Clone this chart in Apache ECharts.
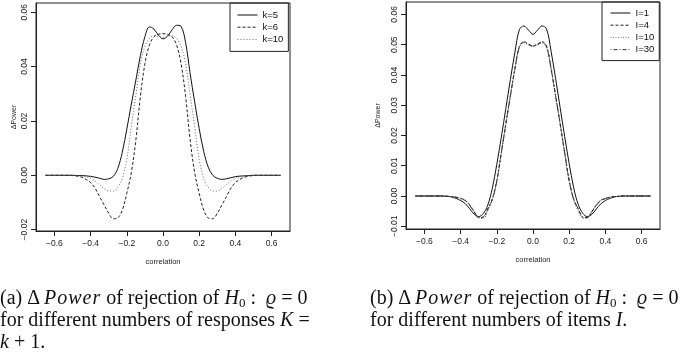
<!DOCTYPE html>
<html>
<head>
<meta charset="utf-8">
<script src="https://cdn.jsdelivr.net/npm/echarts@6/dist/echarts.min.js"></script>
<style>
  html, body { margin: 0; padding: 0; background: #fff; }
  #chart { position: absolute; left: 0; top: 0; width: 685px; height: 355px; }
  .cap {
    position: absolute; font-family: "Liberation Serif", "DejaVu Serif", serif;
    font-size: 20px; line-height: 22px; color: #111; white-space: nowrap;
  }
  .cap i.w { letter-spacing: 1px; }
  .cap sub { font-size: 13px; vertical-align: -3px; line-height: 0; }
</style>
</head>
<body>
<div id="chart"></div>
<div class="cap" style="left:0px; top:286px;">(a) &Delta; <i class="w">Power</i> of rejection of <i>H</i><sub>0</sub> :&nbsp; <i>&#x3F1;</i> = 0<br>for different numbers of responses <i>K</i> =<br><i>k</i> + 1.</div>
<div class="cap" style="left:370px; top:286px;">(b) &Delta; <i class="w">Power</i> of rejection of <i>H</i><sub>0</sub> :&nbsp; <i>&#x3F1;</i> = 0<br>for different numbers of items <i>I</i>.</div>
<script>
// correlation grid shared by all curves
var corr = [-0.65, -0.625, -0.6, -0.575, -0.55, -0.525, -0.5, -0.475, -0.45, -0.425,
  -0.4, -0.375, -0.35, -0.325, -0.3, -0.275, -0.25, -0.225, -0.2, -0.175,
  -0.15, -0.125, -0.1, -0.075, -0.05, -0.025, 0, 0.025, 0.05, 0.075,
  0.1, 0.125, 0.15, 0.175, 0.2, 0.225, 0.25, 0.275, 0.3, 0.325,
  0.35, 0.375, 0.4, 0.425, 0.45, 0.475, 0.5, 0.525, 0.55, 0.575,
  0.6, 0.625, 0.65];

// (a) responses
var k5 = [0, 0, 0, 0, 0, 0, 0, -0.0001, -0.0001, -0.0002,
  -0.0004, -0.0007, -0.0011, -0.0015, -0.0013, -0.0004, 0.0025, 0.0085, 0.0170, 0.0262,
  0.0350, 0.0440, 0.0510, 0.0546, 0.0538, 0.0515, 0.0502, 0.0512, 0.0535, 0.0552,
  0.0548, 0.0488, 0.0375, 0.0270, 0.0172, 0.0088, 0.0030, 0.0000, -0.0011, -0.0015,
  -0.0013, -0.0009, -0.0005, -0.0003, -0.0002, -0.0001, 0, 0, 0, 0,
  0, 0, 0];
var k6 = [0, 0, 0, 0, 0, 0, -0.0001, -0.0003, -0.0007, -0.0015,
  -0.0027, -0.0048, -0.0079, -0.0110, -0.0140, -0.0160, -0.0157, -0.0128, -0.0066, 0.0010,
  0.0130, 0.0290, 0.0410, 0.0480, 0.0510, 0.0519, 0.0521, 0.0519, 0.0510, 0.0480,
  0.0410, 0.0290, 0.0130, 0.0010, -0.0066, -0.0128, -0.0157, -0.0160, -0.0140, -0.0110,
  -0.0079, -0.0048, -0.0027, -0.0015, -0.0007, -0.0003, -0.0001, 0, 0, 0,
  0, 0, 0];
var k10 = [0, 0, 0, 0, 0, 0, 0, -0.0001, -0.0003, -0.0006,
  -0.0011, -0.0021, -0.0035, -0.0049, -0.0058, -0.0058, -0.0044, -0.0012, 0.0058, 0.0180,
  0.0295, 0.0410, 0.0474, 0.0503, 0.0514, 0.0511, 0.0508, 0.0511, 0.0514, 0.0503,
  0.0474, 0.0410, 0.0295, 0.0180, 0.0058, -0.0012, -0.0044, -0.0058, -0.0058, -0.0049,
  -0.0035, -0.0021, -0.0011, -0.0006, -0.0003, -0.0001, 0, 0, 0, 0,
  0, 0, 0];

// (b) items
var i1 = [0, 0, 0, 0, 0, 0, 0, -0.0001, -0.0003, -0.0008,
  -0.0015, -0.0025, -0.0042, -0.0060, -0.0068, -0.0058, -0.0030, 0.0025, 0.0105, 0.0195,
  0.0290, 0.0385, 0.0475, 0.0550, 0.0562, 0.0548, 0.0534, 0.0548, 0.0562, 0.0552,
  0.0478, 0.0388, 0.0292, 0.0197, 0.0107, 0.0027, -0.0028, -0.0057, -0.0068, -0.0061,
  -0.0043, -0.0026, -0.0015, -0.0008, -0.0003, -0.0001, 0, 0, 0, 0,
  0, 0, 0];
var i4 = [0, 0, 0, 0, 0, 0, 0, -0.0001, -0.0002, -0.0004,
  -0.0008, -0.0014, -0.0030, -0.0052, -0.0072, -0.0070, -0.0042, -0.0010, 0.0052, 0.0145,
  0.0240, 0.0332, 0.0422, 0.0495, 0.0510, 0.0502, 0.0496, 0.0502, 0.0510, 0.0495,
  0.0422, 0.0332, 0.0240, 0.0145, 0.0052, -0.0010, -0.0042, -0.0070, -0.0072, -0.0052,
  -0.0030, -0.0014, -0.0008, -0.0004, -0.0002, -0.0001, 0, 0, 0, 0,
  0, 0, 0];
var i10 = [0, 0, 0, 0, 0, 0, 0, -0.0001, -0.0002, -0.0004,
  -0.0008, -0.0013, -0.0028, -0.0050, -0.0071, -0.0075, -0.0050, -0.0016, 0.0045, 0.0138,
  0.0235, 0.0328, 0.0418, 0.0490, 0.0506, 0.0499, 0.0494, 0.0499, 0.0506, 0.0490,
  0.0418, 0.0328, 0.0235, 0.0138, 0.0045, -0.0016, -0.0050, -0.0075, -0.0071, -0.0050,
  -0.0028, -0.0013, -0.0008, -0.0004, -0.0002, -0.0001, 0, 0, 0, 0,
  0, 0, 0];
var i30 = [0, 0, 0, 0, 0, 0, 0, -0.0001, -0.0002, -0.0004,
  -0.0009, -0.0015, -0.0031, -0.0053, -0.0071, -0.0069, -0.0043, -0.0011, 0.0050, 0.0143,
  0.0238, 0.0330, 0.0420, 0.0493, 0.0508, 0.0500, 0.0495, 0.0500, 0.0508, 0.0493,
  0.0420, 0.0330, 0.0238, 0.0143, 0.0050, -0.0011, -0.0043, -0.0069, -0.0071, -0.0053,
  -0.0031, -0.0015, -0.0009, -0.0004, -0.0002, -0.0001, 0, 0, 0, 0,
  0, 0, 0];

var xTicks = [-0.6, -0.4, -0.2, 0, 0.2, 0.4, 0.6];
var yTicksA = [-0.02, 0, 0.02, 0.04, 0.06];
var yTicksB = [-0.01, 0, 0.01, 0.02, 0.03, 0.04, 0.05, 0.06];

var sans = 'Liberation Sans';

function fmt(d) {
  return function (v) {
    var s = Math.abs(v).toFixed(d);
    return v < -1e-9 ? '\u2212' + s : s;
  };
}

function pairs(ys) {
  return corr.map(function (x, i) { return [x, ys[i]]; });
}

function xAxis(idx) {
  return {
    type: 'value', gridIndex: idx, min: -0.702, max: 0.702,
    name: 'correlation', nameLocation: 'middle', nameGap: 27,
    nameTextStyle: { fontFamily: sans, fontSize: 7.5, color: '#222' },
    splitLine: { show: false },
    axisLine: { show: true, onZero: false, lineStyle: { color: '#222', width: 1 } },
    axisTick: { show: true, length: 5, customValues: xTicks, lineStyle: { color: '#222' } },
    axisLabel: { customValues: xTicks, formatter: fmt(1), margin: 8,
      fontFamily: sans, fontSize: 8.5, color: '#222' }
  };
}

function yAxis(idx, min, max, ticks, gap) {
  return {
    type: 'value', gridIndex: idx, min: min, max: max,
    name: '\u0394Power', nameLocation: 'middle', nameGap: gap, nameRotate: 90,
    nameTextStyle: { fontFamily: sans, fontSize: 7, color: '#222' },
    splitLine: { show: false },
    axisLine: { show: true, onZero: false, lineStyle: { color: '#222', width: 1 } },
    axisTick: { show: true, length: 5, customValues: ticks, lineStyle: { color: '#222' } },
    axisLabel: { customValues: ticks, formatter: fmt(2), rotate: 90, margin: 7,
      fontFamily: sans, fontSize: 8.5, color: '#222' }
  };
}

function line(name, idx, ys, color, type) {
  return {
    name: name, type: 'line', xAxisIndex: idx, yAxisIndex: idx,
    data: pairs(ys), smooth: 0.35, symbol: 'none', showSymbol: false,
    lineStyle: { color: color, width: 1, type: type },
    itemStyle: { color: color }
  };
}

function legend(names, left, top, pad) {
  return {
    data: names, orient: 'vertical', left: left, top: top,
    padding: pad, itemWidth: 20, itemHeight: 9, itemGap: 2.2,
    borderColor: '#222', borderWidth: 1, borderRadius: 0,
    itemStyle: { opacity: 0 },
    lineStyle: { width: 1 },
    textStyle: { fontFamily: sans, fontSize: 9.5, color: '#111', lineHeight: 9 }
  };
}

var chart = echarts.init(document.getElementById('chart'), null, { renderer: 'canvas' });
chart.setOption({
  animation: false,
  backgroundColor: '#fff',
  grid: [
    { left: 36, top: 3, width: 254, height: 228, show: true, borderColor: '#222', borderWidth: 1 },
    { left: 406, top: 2, width: 254, height: 227, show: true, borderColor: '#222', borderWidth: 1 }
  ],
  xAxis: [xAxis(0), xAxis(1)],
  yAxis: [
    yAxis(0, -0.0205, 0.0634, yTicksA, 18),
    yAxis(1, -0.0109, 0.0641, yTicksB, 24)
  ],
  legend: [
    legend(['k=5', 'k=6', 'k=10'], 230, 3, [7, 5, 7, 7]),
    legend(['I=1', 'I=4', 'I=10', 'I=30'], 602, 2, [6, 5, 6, 8])
  ],
  series: [
    line('k=5', 0, k5, '#111', 'solid'),
    line('k=6', 0, k6, '#222', [3, 2]),
    line('k=10', 0, k10, '#666', [1, 2]),
    line('I=1', 1, i1, '#111', 'solid'),
    line('I=4', 1, i4, '#222', [3, 2]),
    line('I=10', 1, i10, '#777', [1, 1.5]),
    line('I=30', 1, i30, '#333', [1, 2, 4, 2])
  ]
});
</script>
</body>
</html>
